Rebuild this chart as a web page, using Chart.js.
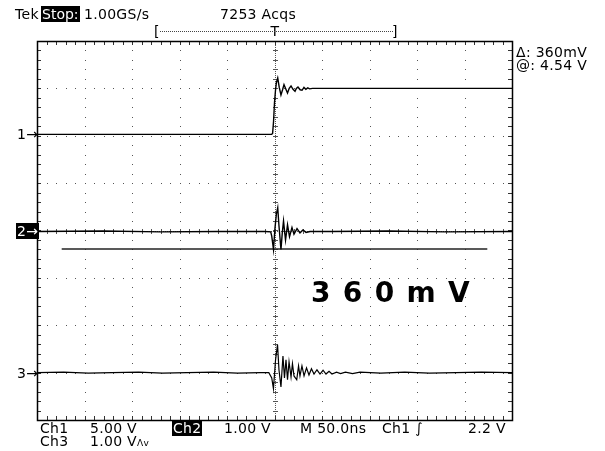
<!DOCTYPE html>
<html><head><meta charset="utf-8">
<script src="https://cdn.jsdelivr.net/npm/chart.js@4.4.1/dist/chart.umd.min.js"></script>
<style>
html,body{margin:0;padding:0;background:#fff;}
#wrap{position:relative;width:605px;height:451px;overflow:hidden;font-family:"DejaVu Sans",sans-serif;color:#000;}
canvas{position:absolute;left:0;top:0;}
.t{position:absolute;font-size:14px;line-height:14px;letter-spacing:0.3px;white-space:nowrap;}
.inv{background:#000;color:#fff;padding:0 1px;}
#big{position:absolute;font-weight:bold;font-size:28px;line-height:30px;letter-spacing:1.3px;white-space:nowrap;}
</style></head>
<body><div id="wrap"><canvas id="c" width="605" height="451"></canvas></div>
<script>
// ---- data (time in ns, value in screen divisions) ----
const xGrid = [-250,-200,-150,-100,-50,0,50,100,150,200,250];
const yGrid = [-4,-3,-2,-1,0,1,2,3,4];

const ch1Time = [-250,-3,-2,-1,0,1,2,3.4,5,6.8,8.5,10,12,13.7,15.5,17.4,19.5,21.6,23,24.7,27,29,31,33,35,37,40,250];
const ch1Val  = [2.03,2.03,2.05,2.3,2.7,2.95,3.12,3.22,3.02,2.86,2.97,3.08,2.98,2.9,3.0,3.05,2.98,2.94,3.0,3.03,2.97,2.96,3.02,2.98,3.01,2.99,3.0,3.0];

const ch2Time = [-250,-180,-120,-60,-10,-4,-2.9,-1.05,0.5,2,3.4,4.7,6.8,8.2,9.5,11.6,13.7,15.8,18.4,20.5,23.7,26.8,30,33.2,37.4,60,120,180,250];
const ch2Val  = [-0.02,-0.01,-0.03,-0.02,-0.02,-0.03,-0.12,-0.4,0.05,0.35,0.48,0.1,-0.4,-0.05,0.2,-0.2,0.12,-0.13,0.06,-0.08,0.04,-0.05,0.01,-0.04,-0.02,-0.02,-0.01,-0.03,-0.02];

const ch3Time = [-250,-222,-196,-171,-143,-118,-92,-64,-39,-15,-6,-2.9,-1.1,1.1,3.2,4.7,6.8,8.9,10.5,12.1,13.7,15.3,17.4,18.9,20.5,23.4,25.3,26.8,28.9,31.1,33.7,36.3,38.9,41.6,44.7,47.9,51.1,54.2,57.4,60.5,65.3,69.5,74.7,82.1,90,112,137,163,191,218,250];
const ch3Val  = [-3.0,-2.99,-3.01,-3.0,-2.99,-3.01,-3.0,-2.99,-3.01,-3.0,-3.0,-3.11,-3.34,-2.73,-2.41,-2.94,-3.3,-2.65,-3.11,-2.73,-3.15,-2.77,-3.09,-2.81,-3.07,-3.15,-2.86,-3.07,-2.86,-3.07,-2.9,-3.05,-2.92,-3.03,-2.94,-3.03,-2.95,-3.03,-2.97,-3.03,-2.99,-3.02,-2.99,-3.02,-2.99,-3.01,-2.99,-3.01,-3.0,-2.99,-3.0];

const cursorTime = [-224,224];
const cursorVal  = [-0.39,-0.39];

const pts = (t,v)=>t.map((x,i)=>({x:x,y:v[i]}));

// ---- scope graticule plugin ----
const graticule = {
  id:'graticule',
  beforeDatasetsDraw(chart){
    const ctx = chart.ctx, xs = chart.scales.x, ys = chart.scales.y;
    const X = v=>xs.getPixelForValue(v), Y = v=>ys.getPixelForValue(v);
    const L=X(-250), R=X(250), T=Y(4), B=Y(-4);
    ctx.save();
    ctx.fillStyle='#555';
    xGrid.forEach(g=>{ if(g===-250||g===250||g===0) return;
      for(let k=-4;k<=4.001;k+=0.2){ ctx.fillRect(Math.round(X(g)),Math.round(Y(k)),1,1); } });
    yGrid.forEach(g=>{ if(g===-4||g===4||g===0) return;
      for(let k=-250;k<=250.01;k+=10){ ctx.fillRect(Math.round(X(k)),Math.round(Y(g)),1,1); } });
    const cx=Math.round(X(0)), cy=Math.round(Y(0));
    for(let y=T;y<=B;y+=2){ ctx.fillRect(cx,Math.round(y),1,1); }
    for(let x=L;x<=R;x+=2){ ctx.fillRect(Math.round(x),cy,1,1); }
    for(let k=-4;k<=4.001;k+=0.2){ ctx.fillRect(cx-2,Math.round(Y(k)),5,1); }
    for(let k=-250;k<=250.01;k+=10){ ctx.fillRect(Math.round(X(k)),cy-2,1,5); }
    ctx.fillStyle='#333';
    for(let k=-4;k<=4.001;k+=0.2){ const y=Math.round(Y(k)); ctx.fillRect(Math.round(L),y,4,1); ctx.fillRect(Math.round(R)-4,y,4,1); }
    for(let k=-250;k<=250.01;k+=10){ const x=Math.round(X(k)); ctx.fillRect(x,Math.round(T),1,4); ctx.fillRect(x,Math.round(B)-4,1,4); }
    ctx.strokeStyle='#000'; ctx.lineWidth=1.5;
    ctx.strokeRect(Math.round(L)+0.5,Math.round(T)+0.5,Math.round(R-L),Math.round(B-T));
    ctx.restore();
  }
};

const chart = new Chart(document.getElementById('c'),{
  type:'line',
  data:{datasets:[
    {label:'Ch1',data:pts(ch1Time,ch1Val),borderColor:'#000',borderWidth:1.4},
    {label:'Ch2',data:pts(ch2Time,ch2Val),borderColor:'#000',borderWidth:1.4},
    {label:'Ch3',data:pts(ch3Time,ch3Val),borderColor:'#000',borderWidth:1.2},
    {label:'Cursor',data:pts(cursorTime,cursorVal),borderColor:'#222',borderWidth:1.3}
  ]},
  options:{
    responsive:false,animation:false,
    layout:{padding:{left:37,top:41,right:93,bottom:31}},
    elements:{point:{radius:0},line:{tension:0}},
    plugins:{legend:{display:false},tooltip:{enabled:false}},
    scales:{
      x:{type:'linear',min:-250,max:250,display:false},
      y:{type:'linear',min:-4,max:4,display:false}
    }
  },
  plugins:[graticule]
});

// ---- text overlays ----
const wrap=document.getElementById('wrap');
function txt(html,left,cy,cls,extra){
  const d=document.createElement('div'); d.className=cls||'t'; d.innerHTML=html;
  d.style.left=left+'px'; d.style.top=(cy-7)+'px';
  if(extra) Object.assign(d.style,extra);
  wrap.appendChild(d); return d;
}
const xs=chart.scales.x, ys=chart.scales.y;
txt('Tek',15,14);
txt('<span class="inv" style="letter-spacing:0">Stop:</span>',41,14);
txt('1.00GS/s',84,14);
txt('7253 Acqs',220,14);
txt('[',154,31);
txt(']',392,31);
txt('T',xs.getPixelForValue(0)-4,31);
const dl=document.createElement('div');
Object.assign(dl.style,{position:'absolute',left:'160px',top:'31px',width:'233px',borderTop:'1px dotted #444'});
wrap.appendChild(dl);
txt('&Delta;: 360mV',516,52);
txt('@: 4.54 V',516,65);
txt('1&rarr;',17,ys.getPixelForValue(ch1Val[0]));
txt('<span class="inv">2&rarr;</span>',16,ys.getPixelForValue(ch2Val[0]));
txt('3&rarr;',17,ys.getPixelForValue(ch3Val[0]));
txt('Ch1',40,428); txt('5.00 V',90,428);
txt('<span class="inv">Ch2</span>',172,428); txt('1.00 V',224,428);
txt('M 50.0ns',300,428); txt('Ch1 &int;',382,428); txt('2.2 V',468,428);
txt('Ch3',40,441); txt('1.00 V<span style="font-size:9px">&Lambda;v</span>',90,441);
const b=document.createElement('div'); b.id='big'; b.textContent='3 6 0 m V';
b.style.left='311px'; b.style.top='278px'; wrap.appendChild(b);
</script></body></html>
